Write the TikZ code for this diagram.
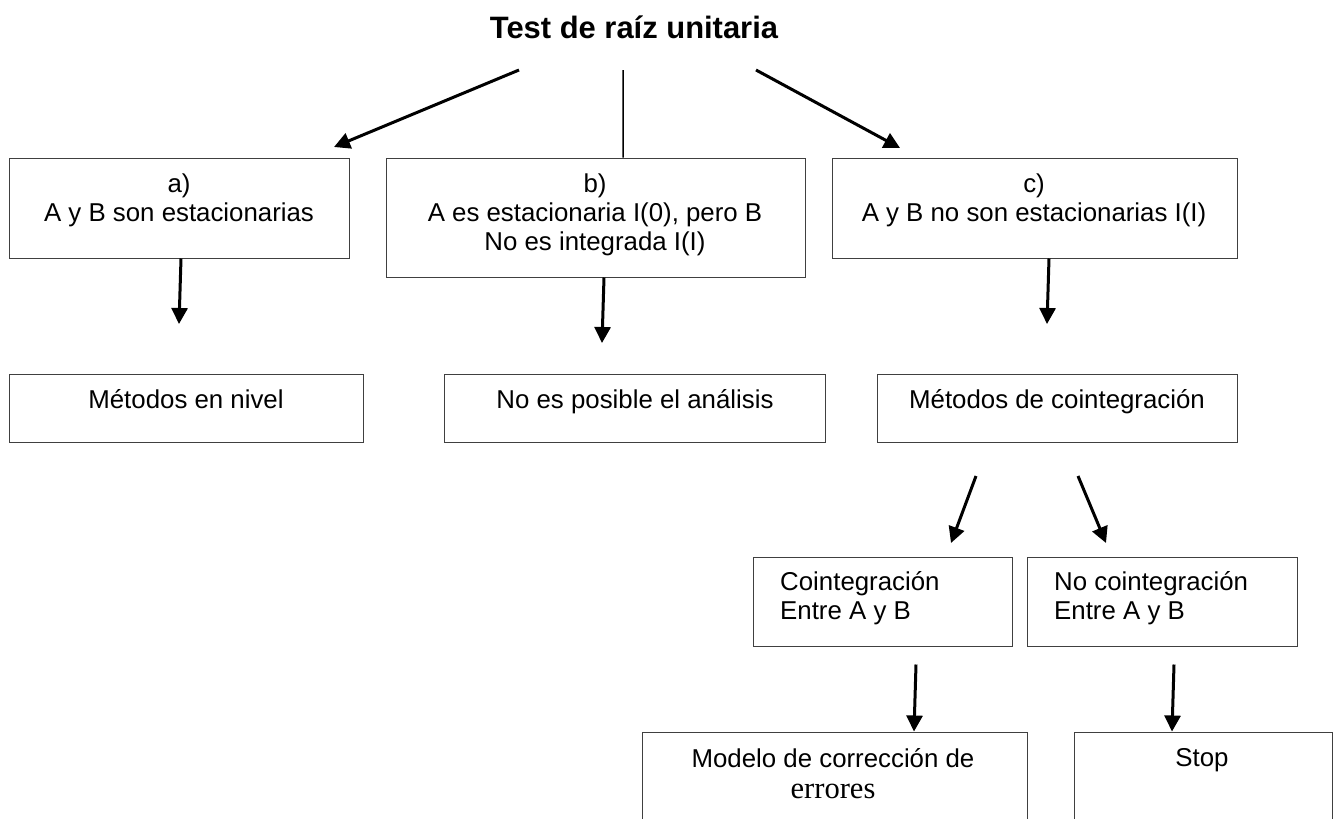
\documentclass[tikz,border=0pt]{standalone}
\usepackage{fontspec}
\setmainfont{Liberation Sans}
\newfontfamily\timesfont{Liberation Serif}
\usepackage{tikz}
\usetikzlibrary{arrows.meta}
\usetikzlibrary{calc}
\usetikzlibrary{fit}

\begin{document}
\begin{tikzpicture}[x=0.02cm, y=-0.02cm,
	box/.style={draw=black!75, line width=0.02cm, inner sep=0pt},
	txt/.style={align=center, font=\fontsize{14.7pt}{16.4pt}\selectfont},
	arr/.style={line width=0.06cm, -{Triangle[length=0.32cm, width=0.32cm]}}]

	\useasboundingbox (0,0) rectangle (1338,818);
	\clip (0,0) rectangle (1338,818);

	% title
	\node[font=\fontsize{17.6pt}{20pt}\selectfont\bfseries] (title) at (634,27) {Test de raíz unitaria};

	% first row
	\node[box, fit={(9,158) (349,258)}] (boxa) {};
	\node[box, fit={(386,158) (805,277)}] (boxb) {};
	\node[box, fit={(832,158) (1237,258)}] (boxc) {};
	\node[txt] (texta) at (179,200) {a)\\A y B son estacionarias};
	\node[txt] (textb) at (595,215) {b)\\A es estacionaria I(0), pero B\\No es integrada I(I)};
	\node[txt] (textc) at (1034,200) {c)\\A y B no son estacionarias I(I)};

	% second row
	\node[box, fit={(9,374) (363,442)}] (nivel) {};
	\node[box, fit={(444,374) (825,442)}] (noposible) {};
	\node[box, fit={(877,374) (1237,442)}] (metcoint) {};
	\node[txt, anchor=base] (textnivel) at (186,408) {Métodos en nivel};
	\node[txt, anchor=base] (textnoposible) at (635,408) {No es posible el análisis};
	\node[txt, anchor=base] (textmetcoint) at (1057,408) {Métodos de cointegración};

	% third row
	\node[box, fit={(753,557) (1012,646)}] (coint) {};
	\node[box, fit={(1027,557) (1297,646)}] (nocoint) {};
	\node[txt, align=left, anchor=west] (textcoint) at (774,598) {Cointegración\\Entre A y B};
	\node[txt, align=left, anchor=west] (textnocoint) at (1048,598) {No cointegración\\Entre A y B};

	% last row, cut at the bottom
	\node[box, fit={(642,732) (1027,840)}] (modelo) {};
	\node[box, fit={(1074,732) (1332,840)}] (stop) {};
	\node[txt, anchor=base] (textmodelo) at (833,798) {Modelo de corrección de\\[1.2pt]{\timesfont\fontsize{17.4pt}{20pt}\selectfont errores}};
	\node[txt, anchor=base] (textstop) at (1202,766) {Stop};

	% free ends
	\coordinate (ta) at (519,70);
	\coordinate (tb) at (623,70);
	\coordinate (tc) at (756,70);
	\coordinate (ea) at (334,147);
	\coordinate (ec) at (900,148);
	\coordinate (enivel) at (179,324);
	\coordinate (enoposible) at (602,343);
	\coordinate (emetcoint) at (1047,324);
	\coordinate (s1) at (976,476);
	\coordinate (s2) at (1078,476);
	\coordinate (ecoint) at (951,543);
	\coordinate (enocoint) at (1106,543);

	\draw[arr] (ta) -- (ea);
	\draw[line width=0.03cm] (tb) -- ($(boxb.north)+(27.5,0)$);
	\draw[arr] (tc) -- (ec);

	\draw[arr] ($(boxa.south)+(2,0)$) -- (enivel);
	\draw[arr] ($(boxb.south)+(8.5,0)$) -- (enoposible);
	\draw[arr] ($(boxc.south)+(14.5,0)$) -- (emetcoint);

	\draw[arr] (s1) -- (ecoint);
	\draw[arr] (s2) -- (enocoint);

	\draw[arr] ($(coint.south)+(33.5,18)$) -- ($(modelo.north)+(79.5,0)$);
	\draw[arr] ($(nocoint.south)+(12,18)$) -- ($(stop.north)+(-31,0)$);

\end{tikzpicture}
\end{document}
